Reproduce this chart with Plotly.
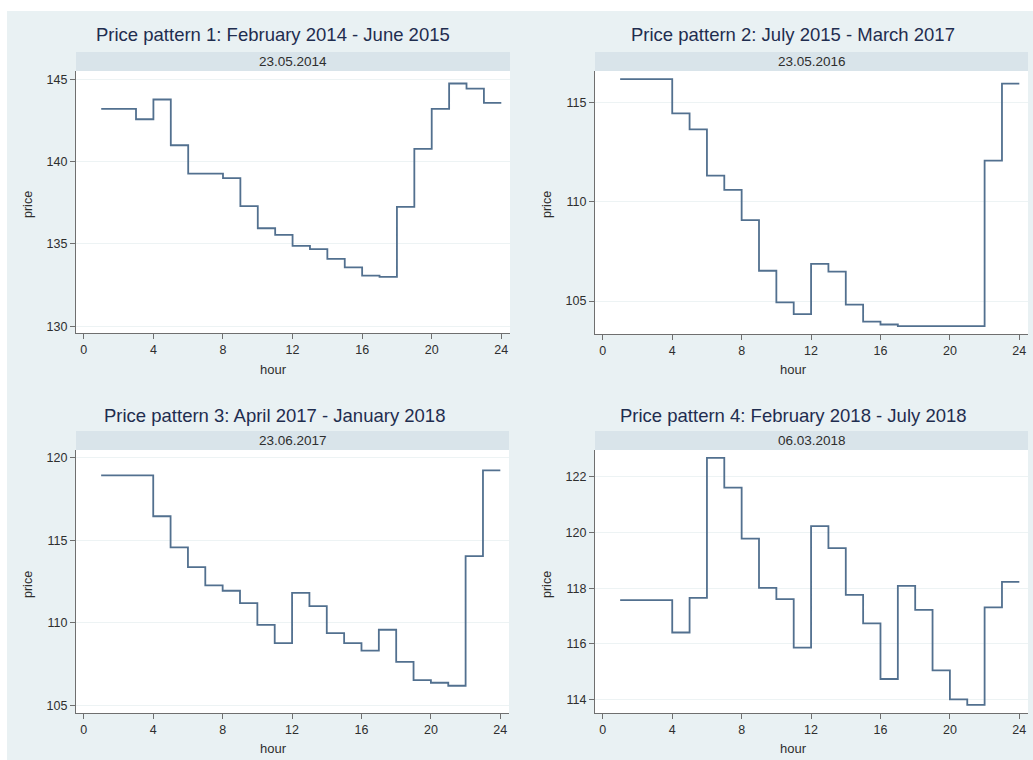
import plotly.graph_objects as go

W, H = 1033, 760

hours = list(range(1, 25))

titles = [
    "Price pattern 1: February 2014 - June 2015",
    "Price pattern 2: July 2015 - March 2017",
    "Price pattern 3: April 2017 - January 2018",
    "Price pattern 4: February 2018 - July 2018",
]
dates = ["23.05.2014", "23.05.2016", "23.06.2017", "06.03.2018"]

price_p1 = [143.2, 143.2, 142.57, 143.77, 140.99, 139.27, 139.27, 138.99, 137.29, 135.95,
            135.55, 134.88, 134.68, 134.09, 133.58, 133.08, 133.0, 137.25, 140.77, 143.2,
            144.74, 144.43, 143.56, 143.56]
price_p2 = [116.19, 116.19, 116.19, 114.46, 113.66, 111.32, 110.61, 109.08, 106.53, 104.93,
            104.34, 106.88, 106.48, 104.82, 103.96, 103.82, 103.74, 103.74, 103.74, 103.74,
            103.74, 112.08, 115.96, 115.96]
price_p3 = [118.93, 118.93, 118.93, 116.45, 114.56, 113.37, 112.26, 111.94, 111.19, 109.88,
            108.77, 111.81, 111.01, 109.38, 108.77, 108.31, 109.58, 107.64, 106.53, 106.37,
            106.19, 114.03, 119.23, 119.23]
price_p4 = [117.57, 117.57, 117.57, 116.41, 117.65, 122.68, 121.61, 119.78, 118.01, 117.61,
            115.87, 120.23, 119.44, 117.76, 116.74, 114.74, 118.08, 117.22, 115.05, 114.01,
            113.81, 117.31, 118.23, 118.23]

x_ticks = [0, 4, 8, 12, 16, 20, 24]
y_ticks = [[130, 135, 140, 145], [105, 110, 115], [105, 110, 115, 120], [114, 116, 118, 120, 122]]
y_ranges = [[129.59, 145.5], [103.34, 116.6], [104.54, 120.46], [113.52, 122.96]]
series = [price_p1, price_p2, price_p3, price_p4]

# pixel boxes of plot areas: (x0, x1, y0_top, y1_bottom)
boxes = [(76, 510, 71, 333), (595, 1028, 71, 334), (76, 509, 450, 713), (595, 1028, 450, 713)]
strip_h = 19
title_pos = [(273, 35), (793, 35), (274, 415), (793, 415)]
ytitle_pos = [(28, 205), (547, 205), (28, 585), (547, 585)]
xtitle_pos = [(273, 369), (793, 369), (273, 748), (793, 748)]

FONT = "Liberation Sans, Arial, sans-serif"
LINE = "#52708f"
AXIS = "#6f6f6f"
TXT = "#2e2e2e"

def fx(px):
    return px / W

def fy(py):
    return 1 - py / H

fig = go.Figure()
shapes = [dict(type="rect", xref="paper", yref="paper", x0=fx(7), x1=1, y0=0, y1=fy(11),
               fillcolor="#e9f1f3", line=dict(width=0), layer="below")]
annotations = []

for i in range(4):
    n = "" if i == 0 else str(i + 1)
    x0, x1, yt, yb = boxes[i]
    fig.add_trace(go.Scatter(x=hours, y=series[i], mode="lines", line_shape="hv",
                             line=dict(color=LINE, width=1.8), xaxis="x" + n, yaxis="y" + n,
                             showlegend=False, hoverinfo="x+y"))
    fig.layout["xaxis" + n] = dict(
        domain=[fx(x0), fx(x1)], anchor="y" + n, range=[-0.45, 24.5],
        tickvals=x_ticks, ticks="outside", ticklen=5, tickcolor=AXIS,
        showline=True, linecolor=AXIS, linewidth=1.2, showgrid=False, zeroline=False,
        tickfont=dict(family=FONT, size=12.5, color=TXT))
    fig.layout["yaxis" + n] = dict(
        domain=[fy(yb), fy(yt)], anchor="x" + n, range=y_ranges[i],
        tickvals=y_ticks[i], ticks="outside", ticklen=5, tickcolor=AXIS,
        showline=True, linecolor=AXIS, linewidth=1.2, showgrid=True, gridcolor="#edf3f4",
        gridwidth=1, zeroline=False, tickfont=dict(family=FONT, size=12.5, color=TXT))
    shapes.append(dict(type="rect", xref="paper", yref="paper", x0=fx(x0), x1=fx(x1),
                       y0=fy(yb), y1=fy(yt), fillcolor="white", line=dict(width=0), layer="below"))
    shapes.append(dict(type="rect", xref="paper", yref="paper", x0=fx(x0), x1=fx(x1),
                       y0=fy(yt), y1=fy(yt - strip_h), fillcolor="#d9e4ea", line=dict(width=0),
                       layer="below"))
    annotations.append(dict(text=dates[i], xref="paper", yref="paper", x=fx((x0 + x1) / 2),
                            y=fy(yt - strip_h / 2), showarrow=False, xanchor="center",
                            yanchor="middle", font=dict(family=FONT, size=13.5, color=TXT)))
    tx, ty = title_pos[i]
    annotations.append(dict(text=titles[i], xref="paper", yref="paper", x=fx(tx), y=fy(ty),
                            showarrow=False, xanchor="center", yanchor="middle",
                            font=dict(family=FONT, size=18.5, color="#1f2d4f")))
    ax_, ay_ = ytitle_pos[i]
    annotations.append(dict(text="price", xref="paper", yref="paper", x=fx(ax_), y=fy(ay_),
                            showarrow=False, xanchor="center", yanchor="middle", textangle=-90,
                            font=dict(family=FONT, size=12.5, color=TXT)))
    hx, hy = xtitle_pos[i]
    annotations.append(dict(text="hour", xref="paper", yref="paper", x=fx(hx), y=fy(hy),
                            showarrow=False, xanchor="center", yanchor="middle",
                            font=dict(family=FONT, size=13, color=TXT)))

fig.update_layout(width=W, height=H, margin=dict(l=0, r=0, t=0, b=0),
                  paper_bgcolor="white", plot_bgcolor="rgba(0,0,0,0)",
                  shapes=shapes, annotations=annotations, showlegend=False)

fig.write_html("out.html")
